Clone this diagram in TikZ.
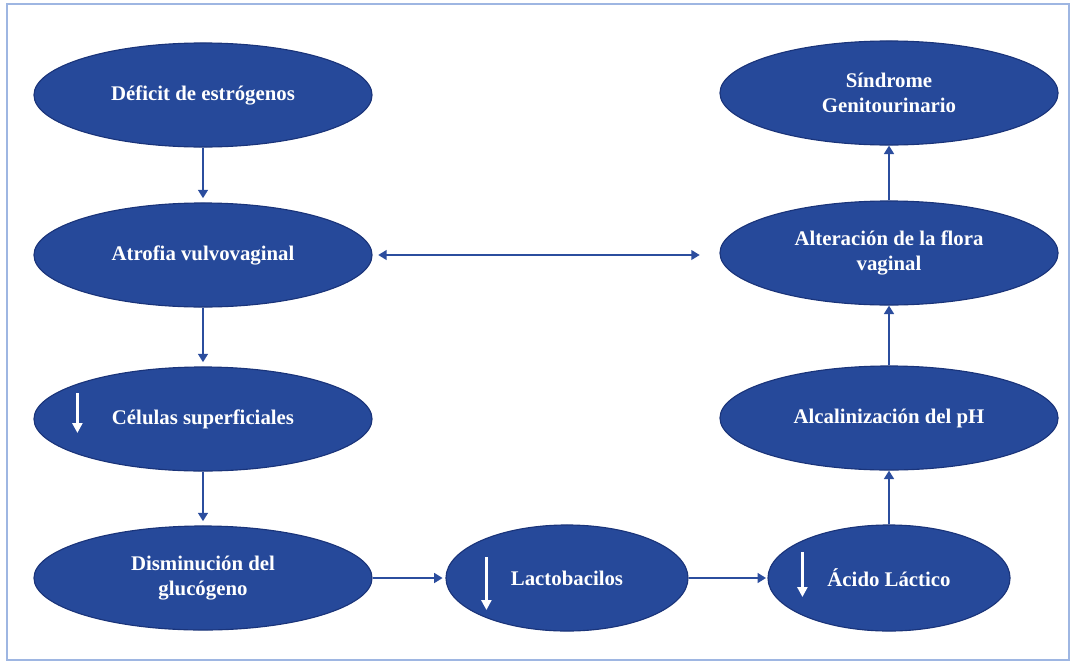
\documentclass[tikz,border=0pt]{standalone}
\usepackage{fontspec}
\setmainfont{Liberation Serif}
\usetikzlibrary{shapes.geometric,arrows.meta}
\definecolor{elipseazul}{RGB}{38,73,154}
\definecolor{bordeazul}{RGB}{26,52,122}
\definecolor{flechaazul}{RGB}{43,77,158}
\definecolor{marcoazul}{RGB}{158,182,226}
\tikzset{
  paso/.style={ellipse,fill=elipseazul,draw=bordeazul,line width=0.8pt,text=white,
    font=\bfseries\fontsize{14.8}{17.5}\selectfont,align=center,inner sep=0pt,
    minimum width=8.45cm,minimum height=2.6cm},
  pasochico/.style={paso,minimum width=6.05cm,minimum height=2.65cm},
  flecha/.style={-{Triangle[length=6pt,width=7pt]},line width=1.4pt,draw=flechaazul},
  baja/.style={-{Triangle[length=7pt,width=7pt]},line width=1.7pt,draw=white},
}
\begin{document}
\begin{tikzpicture}[x=0.025cm,y=-0.025cm]
\useasboundingbox (0,0) rectangle (1075,664);
\draw[marcoazul,line width=1.2pt] (7,4) rectangle (1069,660);
% columna izquierda
\node[paso] (def) at (203,95) {Déficit de estrógenos};
\node[paso] (atr) at (203,255) {Atrofia vulvovaginal};
\node[paso] (cel) at (203,419) {Células superficiales};
\node[paso] (dis) at (203,578) {Disminución del\\glucógeno};
% fila inferior
\node[pasochico] (lac) at (567,578) {Lactobacilos};
\node[pasochico] (aci) at (889,578) {Ácido Láctico};
% columna derecha
\node[paso] (alc) at (889,418) {Alcalinización del pH};
\node[paso] (alt) at (889,253) {Alteración de la flora\\vaginal};
\node[paso] (sin) at (889,93) {Síndrome\\Genitourinario};
% flechas blancas (disminucion)
\draw[baja] ([shift={(44,-26)}]cel.west) -- ([shift={(44,14)}]cel.west);
\draw[baja] ([shift={(41,-21)}]lac.west) -- ([shift={(41,32)}]lac.west);
\draw[baja] ([shift={(35,-26)}]aci.west) -- ([shift={(35,19)}]aci.west);
% conectores
\draw[flecha,shorten >=3pt] (def) -- (atr);
\draw[flecha,shorten >=3pt] (atr) -- (cel);
\draw[flecha,shorten >=3pt] (cel) -- (dis);
\draw[flecha,shorten >=2pt] (dis) -- (lac);
\draw[flecha,shorten >=1pt] (lac) -- (aci);
\draw[flecha] (aci) -- (alc);
\draw[flecha] (alc) -- (alt);
\draw[flecha] (alt) -- (sin);
\draw[{Triangle[length=6pt,width=7pt]}-{Triangle[length=6pt,width=7pt]},line width=1.1pt,draw=flechaazul,shorten <=4pt,shorten >=14pt] (atr.east) -- (atr.east -| alt.west);
\end{tikzpicture}
\end{document}
